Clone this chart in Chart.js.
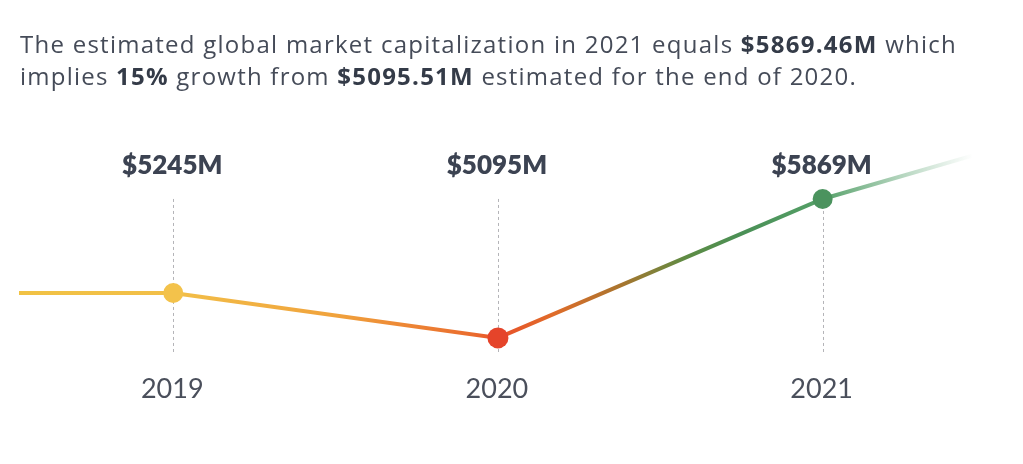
<!DOCTYPE html>
<html>
<head>
<meta charset="utf-8">
<script src="https://cdn.jsdelivr.net/npm/chart.js@4/dist/chart.umd.min.js"></script>
<style>
  html,body{margin:0;padding:0;background:#fff;}
  #wrap{position:relative;width:1023px;height:464px;overflow:hidden;}
  #title{position:absolute;left:20px;top:28px;width:1010px;font-family:"Open Sans",Lato,sans-serif;font-size:24px;line-height:32px;color:#454b58;white-space:nowrap;}
  #title b{font-weight:700;color:#343b48;}
  #title span{display:inline-block;}
  canvas{position:absolute;left:0;top:0;}
</style>
</head>
<body>
<div id="wrap">
  <canvas id="c" width="1023" height="464"></canvas>
  <div id="title"><span id="l1">The estimated global market capitalization in 2021 equals <b>$5869.46M</b> which</span><br><span id="l2">implies <b>15%</b> growth from <b>$5095.51M</b> estimated for the end of 2020.</span></div>
</div>
<script>
// Years on the line (first and last run off the visible area)
const years = [2018, 2019, 2020, 2021, 2022];
// Plotted level of the line at each year (in $M on the drawn axis)
const lineLevels = [5345, 5345, 5095, 5869, 6392];
// Labelled years and their value labels
const labelYears = [2019, 2020, 2021];
const labelValues = [5245, 5095, 5869];
const pointColors = ['rgba(0,0,0,0)', '#f3c24b', '#e5442a', '#4b935e', 'rgba(0,0,0,0)'];
const pointSizes = [0, 10, 10.5, 10, 0];

// fit the title lines to the reference widths
[['l1', 937], ['l2', 837]].forEach(([id, target]) => {
  const el = document.getElementById(id);
  const n = el.textContent.length;
  const w = el.getBoundingClientRect().width;
  el.style.letterSpacing = ((target - w) / n) + 'px';
});

const ctx = document.getElementById('c').getContext('2d');

function lineGradient(chart) {
  const {ctx, chartArea} = chart;
  if (!chartArea) return '#f2c244';
  const x = chart.scales.x;
  const g = ctx.createLinearGradient(chartArea.left, 0, chartArea.right, 0);
  const w = chartArea.right - chartArea.left;
  const stop = (px, c) => g.addColorStop(Math.min(1, Math.max(0, (px - chartArea.left) / w)), c);
  const p19 = x.getPixelForValue(2019), p20 = x.getPixelForValue(2020), p21 = x.getPixelForValue(2021);
  stop(chartArea.left, '#f1c244');
  stop(p19, '#f2bf48');
  stop(p19 + (p20 - p19) * 0.5, '#f0a23c');
  stop(p20 - 25, '#ea6c2e');
  stop(p20, '#e8502a');
  stop(p20 + 55, '#e06c2a');
  stop(p20 + (p21 - p20) * 0.38, '#a8752e');
  stop(p20 + (p21 - p20) * 0.58, '#5e8c44');
  stop(p20 + (p21 - p20) * 0.75, '#4a9056');
  stop(p21, '#55a068');
  stop(p21 + 70, 'rgba(100,168,120,0.55)');
  stop(p21 + 150, 'rgba(120,180,140,0)');
  stop(chartArea.right, 'rgba(120,180,140,0)');
  return g;
}

const overlay = {
  id: 'overlay',
  beforeDatasetsDraw(chart) {
    const c = chart.ctx, x = chart.scales.x, y = chart.scales.y;
    const top = y.getPixelForValue(Math.max(...labelYears.map(yr => lineLevels[years.indexOf(yr)])));
    const bottom = y.getPixelForValue(Math.min(...lineLevels)) + 14;
    c.save();
    c.strokeStyle = '#b4b4b8';
    c.lineWidth = 1;
    c.setLineDash([3, 3]);
    labelYears.forEach(yr => {
      const px = Math.round(x.getPixelForValue(yr)) + 0.5;
      c.beginPath();
      c.moveTo(px, top);
      c.lineTo(px, bottom);
      c.stroke();
    });
    c.restore();
  },
  afterDatasetsDraw(chart) {
    const c = chart.ctx, x = chart.scales.x;
    c.save();
    c.textAlign = 'center';
    c.textBaseline = 'middle';
    labelYears.forEach((yr, i) => {
      const px = x.getPixelForValue(yr) - 1;
      c.fillStyle = '#3c4352';
      c.font = '800 26px Lato, "Open Sans", sans-serif';
      c.fillText('$' + labelValues[i] + 'M', px, 166);
      c.fillStyle = '#4a4f5b';
      c.font = '400 27px Lato, "Open Sans", sans-serif';
      c.fillText(String(yr), px, 389);
    });
    c.restore();
  }
};

new Chart(ctx, {
  type: 'line',
  data: {
    datasets: [{
      data: years.map((yr, i) => ({x: yr, y: lineLevels[i]})),
      borderColor: (context) => lineGradient(context.chart),
      borderWidth: 4,
      tension: 0,
      fill: false,
      pointRadius: pointSizes,
      pointHoverRadius: pointSizes,
      pointBackgroundColor: pointColors,
      pointBorderWidth: 0,
      pointBorderColor: 'rgba(0,0,0,0)'
    }]
  },
  options: {
    responsive: false,
    animation: false,
    events: [],
    layout: {padding: {left: 19, right: 38, top: 0, bottom: 0}},
    scales: {
      x: {type: 'linear', min: 2018.525, max: 2021.5, display: false},
      y: {type: 'linear', min: 4393, max: 6977, display: false}
    },
    plugins: {legend: {display: false}, tooltip: {enabled: false}}
  },
  plugins: [overlay]
});
</script>
</body>
</html>
